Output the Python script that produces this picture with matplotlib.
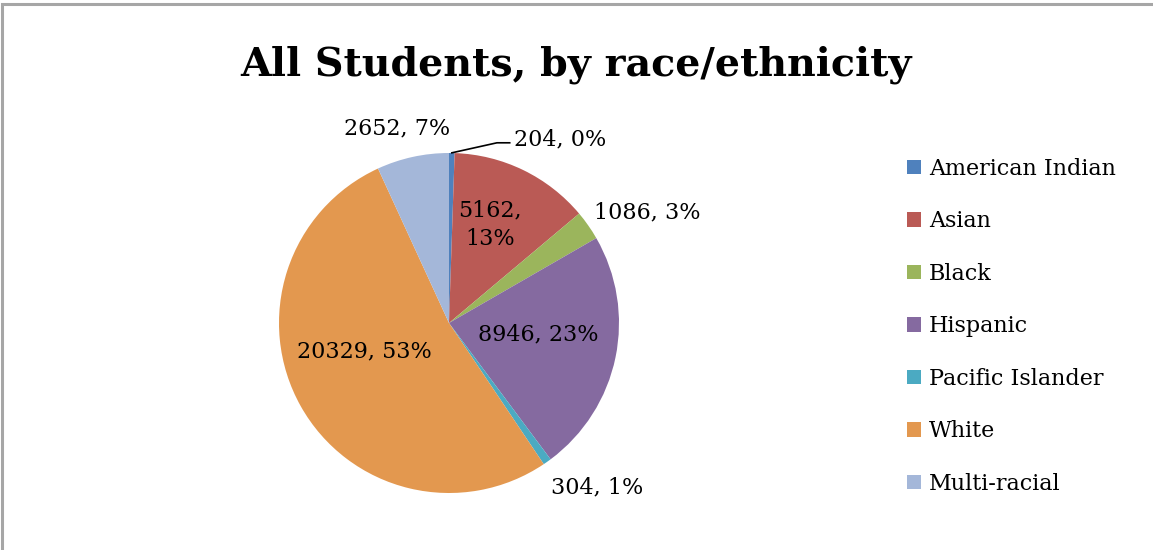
import matplotlib
matplotlib.use("Agg")
import matplotlib.pyplot as plt
from matplotlib.patches import Rectangle

# Enrollment counts by race/ethnicity
categories = ["American Indian", "Asian", "Black", "Hispanic",
              "Pacific Islander", "White", "Multi-racial"]
counts = [204, 5162, 1086, 8946, 304, 20329, 2652]
pct_labels = ["0%", "13%", "3%", "23%", "1%", "53%", "7%"]
colors = ["#4F81BD", "#BA5A55", "#9BB55C", "#856AA0",
          "#4BAAC2", "#E3984F", "#A4B7D9"]

W, H, DPI = 1153, 550, 100
fig = plt.figure(figsize=(W / DPI, H / DPI), dpi=DPI)
plt.rcParams["font.family"] = ["DejaVu Serif"]

# outer frame of the chart area
fig.patches.append(Rectangle((2 / W, -0.05), 1.2, 1.05 - 4 / H,
                             transform=fig.transFigure, fill=False,
                             edgecolor="#a6a6a6", linewidth=2.2))

fig.text(0.5, 1 - 65 / H, "All Students, by race/ethnicity",
         ha="center", va="center", fontsize=28.5, fontweight="bold",
         family="DejaVu Serif")

# pie axes: centre at (449, 323) px, radius 170 px
R = 170.0
ax = fig.add_axes([199 / W, (H - 323 - 200) / H, 500 / W, 400 / H])

wedges, _ = ax.pie(counts, colors=colors, startangle=90, counterclock=False,
                   radius=1.0, wedgeprops=dict(linewidth=0))
ax.set_aspect("auto")
ax.set_xlim(-250 / R, 250 / R)
ax.set_ylim(-200 / R, 200 / R)
ax.axis("off")

labels = [f"{c}, {p}" for c, p in zip(counts, pct_labels)]
labels[1] = f"{counts[1]},\n{pct_labels[1]}"

# label anchor positions in pie-radius units
label_pos = [(0.385, 1.08, "left"), (0.24, 0.576, "center"),
             (1.165, 0.653, "center"), (0.524, -0.07, "center"),
             (0.87, -0.97, "center"), (-0.5, -0.17, "center"),
             (-0.306, 1.147, "center")]
for txt, (x, y, ha) in zip(labels, label_pos):
    ax.text(x, y, txt, ha=ha, va="center", fontsize=16,
            linespacing=1.4, color="black")

# leader line for the thin American Indian slice
ax.plot([0.012, 0.282, 0.362], [1.0, 1.06, 1.06], color="black",
        linewidth=1.2, solid_capstyle="butt")

leg = fig.legend(wedges, categories, loc="upper left",
                 bbox_to_anchor=(907 / W, 1 - 158 / H), frameon=False,
                 fontsize=16, handlelength=0.62, handleheight=0.62,
                 handletextpad=0.37, labelspacing=1.37, borderaxespad=0,
                 borderpad=0)

fig.savefig("out.png", dpi=DPI, facecolor="white")
